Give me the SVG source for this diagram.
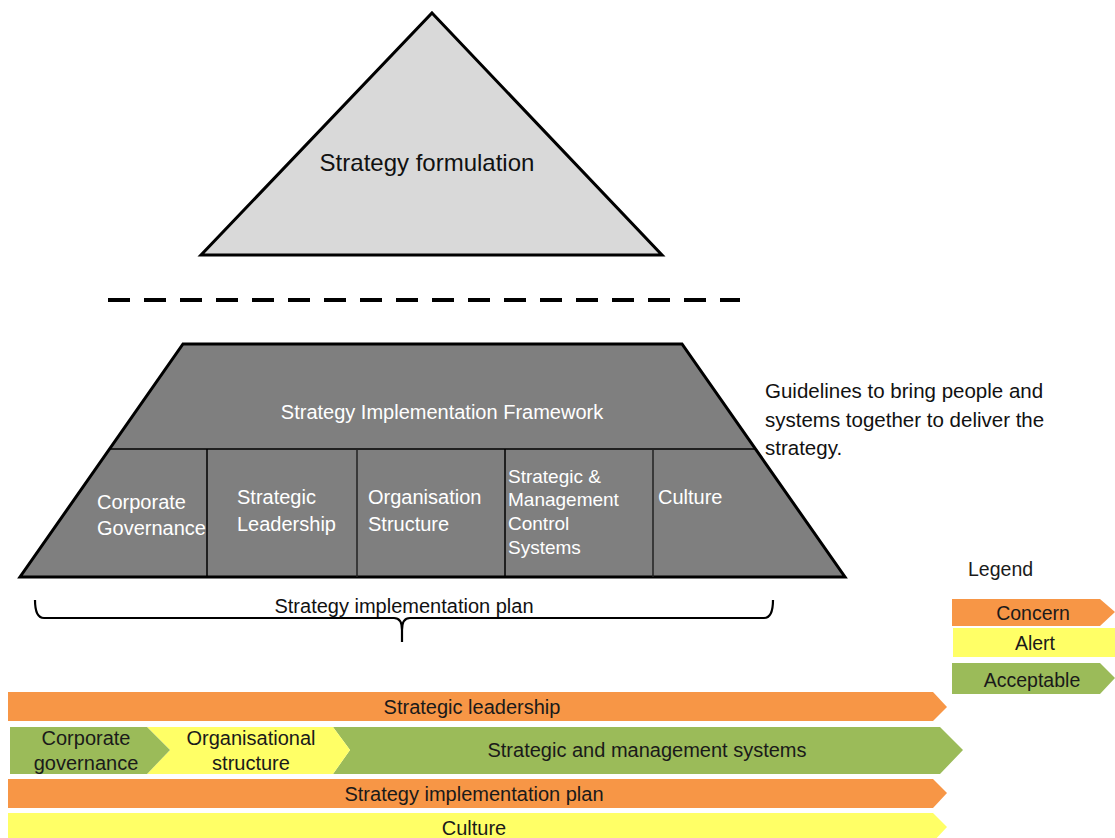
<svg xmlns="http://www.w3.org/2000/svg" width="1115" height="838" viewBox="0 0 1115 838">
<style>
text{font-family:"Liberation Sans",Arial,sans-serif;}
.w{fill:#ffffff;font-size:20px;}
.b{fill:#111111;font-size:20px;}
.bar{font-size:20px;fill:#1a1a1a;}
.lg{font-size:19.5px;fill:#1a1a1a;}
.or{fill:#F79646;}
.ye{fill:#FFFF66;}
.gr{fill:#9BBB59;}
</style>
<rect width="1115" height="838" fill="#ffffff"/>
<g id="formulation">
<polygon points="432,13 662,255 201,255" fill="#D9D9D9" stroke="#000" stroke-width="3" stroke-linejoin="miter"/>
<text x="427" y="171" text-anchor="middle" class="b" style="font-size:24px">Strategy formulation</text>
</g>
<g id="divider">
<line x1="108" y1="300" x2="740" y2="300" stroke="#000" stroke-width="4" stroke-dasharray="22,14"/>
</g>
<g id="framework">
<polygon points="183,344 682,344 845,577 20,577" fill="#7F7F7F" stroke="#000" stroke-width="3"/>
<line x1="110" y1="449" x2="755" y2="449" stroke="#000" stroke-width="1.5"/>
<line x1="207" y1="449" x2="207" y2="577" stroke="#000" stroke-width="1.5"/>
<line x1="357" y1="449" x2="357" y2="577" stroke="#222" stroke-width="1.5"/>
<line x1="505" y1="449" x2="505" y2="577" stroke="#000" stroke-width="1.5"/>
<line x1="653" y1="449" x2="653" y2="577" stroke="#222" stroke-width="1.5"/>
<text x="442" y="419" text-anchor="middle" class="w">Strategy Implementation  Framework</text>
<text class="w" x="97" y="509">Corporate</text>
<text class="w" x="97" y="535">Governance</text>
<text class="w" x="237" y="504">Strategic</text>
<text class="w" x="237" y="531">Leadership</text>
<text class="w" x="368" y="504">Organisation</text>
<text class="w" x="368" y="531">Structure</text>
<text class="w" x="508" y="483" style="font-size:19px">Strategic &amp;</text>
<text class="w" x="508" y="506" style="font-size:19px">Management</text>
<text class="w" x="508" y="530" style="font-size:19px">Control</text>
<text class="w" x="508" y="554" style="font-size:19px">Systems</text>
<text class="w" x="658" y="504">Culture</text>
</g>
<g id="guidelines">
<text class="b" x="765" y="398" style="font-size:20.5px">Guidelines  to bring people  and</text>
<text class="b" x="765" y="427" style="font-size:20.5px">systems together to deliver  the</text>
<text class="b" x="765" y="455" style="font-size:20.5px">strategy.</text>
</g>
<g id="plan">
<path d="M35,600 Q35,618 44,618 L394,618 Q402,618 402,630 L402,642 M402,630 Q402,618 410,618 L764,618 Q773,618 773,600" fill="none" stroke="#000" stroke-width="2.2"/>
<text class="b" x="404" y="613" text-anchor="middle">Strategy implementation  plan</text>
</g>
<g id="legend">
<text class="lg" x="968" y="576">Legend</text>
<polygon class="or" points="952,599 1100,599 1115,612 1100,626 952,626"/>
<text class="lg" x="1033" y="620" text-anchor="middle">Concern</text>
<polygon class="ye" points="953,628 1115,628 1115,657 953,657"/>
<text class="lg" x="1035" y="650" text-anchor="middle">Alert</text>
<polygon class="gr" points="952,663 1100,663 1115,678 1100,694 952,694"/>
<text class="lg" x="1032" y="687" text-anchor="middle">Acceptable</text>
</g>
<g id="bar-leadership">
<polygon class="or" points="8,692 933,692 947,707 933,721 8,721"/>
<text class="bar" x="472" y="714" text-anchor="middle">Strategic leadership</text>
</g>
<g id="bar-systems">
<polygon class="gr" points="333,727 940,727 963,750 940,774 333,774 350,750"/>
<text class="bar" x="647" y="757" text-anchor="middle">Strategic and management  systems</text>
</g>
<g id="bar-structure">
<polygon class="ye" points="147,727 333,727 350,750 333,774 147,774 170,750"/>
<text class="bar" x="251" y="745" text-anchor="middle">Organisational</text>
<text class="bar" x="251" y="770" text-anchor="middle">structure</text>
</g>
<g id="bar-governance">
<polygon class="gr" points="10,727 147,727 170,750 147,774 10,774"/>
<text class="bar" x="86" y="745" text-anchor="middle">Corporate</text>
<text class="bar" x="86" y="770" text-anchor="middle">governance</text>
</g>
<g id="bar-plan">
<polygon class="or" points="8,779 933,779 947,793 933,808 8,808"/>
<text class="bar" x="474" y="801" text-anchor="middle">Strategy implementation  plan</text>
</g>
<g id="bar-culture">
<polygon class="ye" points="8,813 933,813 947,827 933,842 8,842"/>
<text class="bar" x="474" y="835" text-anchor="middle">Culture</text>
</g>
<g id="connectors"></g>
</svg>
